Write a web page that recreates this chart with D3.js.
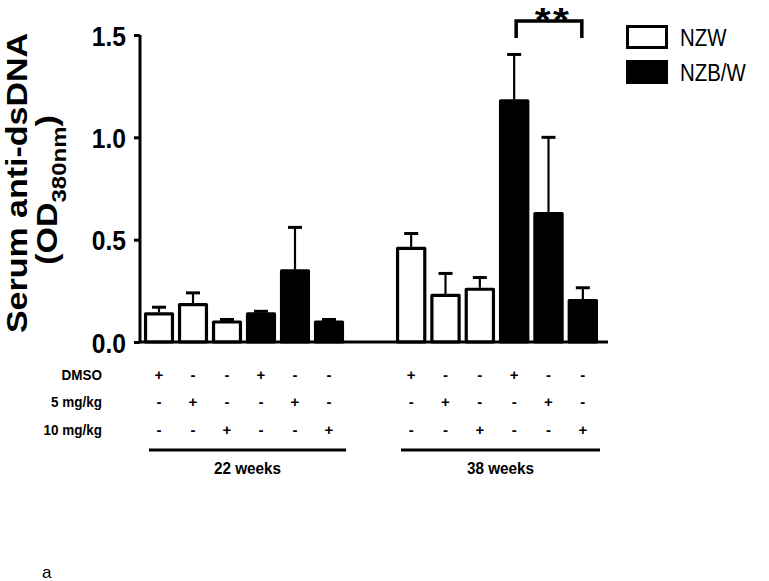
<!DOCTYPE html>
<html>
<head>
<meta charset="utf-8">
<script src="https://cdn.jsdelivr.net/npm/d3@7"></script>
<style>
  html, body { margin: 0; padding: 0; background: #fff; }
  svg { display: block; }
  text { font-family: "Liberation Sans", Arial, sans-serif; fill: #000; }
</style>
</head>
<body>
<svg id="chart" width="769" height="581"></svg>
<script>
// ---- data ----
const weeks = ["22 weeks", "38 weeks"];
const treatments = ["DMSO", "5 mg/kg", "10 mg/kg"];
const strains = ["NZW", "NZB/W"];
// order within a group: NZW DMSO, NZW 5, NZW 10, NZB/W DMSO, NZB/W 5, NZB/W 10
const means22 = [0.145, 0.19, 0.105, 0.145, 0.355, 0.105];
const sem22   = [0.025, 0.05, 0.005, 0.005, 0.205, 0.005];
const means38 = [0.465, 0.235, 0.265, 1.185, 0.635, 0.21];
const sem38   = [0.065, 0.10, 0.05, 0.22, 0.365, 0.055];
const yTicks = [0, 0.5, 1.0, 1.5];
const significance = "**";

// ---- build rows ----
function buildRows(means, sems, week) {
  return means.map((m, i) => ({
    week,
    strain: strains[Math.floor(i / 3)],
    treatment: treatments[i % 3],
    key: strains[Math.floor(i / 3)] + "|" + treatments[i % 3],
    mean: m,
    sem: sems[i]
  }));
}
const groups = [
  { week: weeks[0], rows: buildRows(means22, sem22, weeks[0]), range: [142, 346] },
  { week: weeks[1], rows: buildRows(means38, sem38, weeks[1]), range: [394, 600] }
];

const svg = d3.select("#chart");
const y = d3.scaleLinear().domain([0, 1.5]).range([342, 35]);
const axisX = 140;
const baseY = y(0);

groups.forEach(g => {
  g.x = d3.scaleBand().domain(g.rows.map(r => r.key)).range(g.range)
    .paddingInner(0.12).paddingOuter(0.06);
});

// ---- bars ----
groups.forEach(g => {
  const gg = svg.append("g");
  gg.selectAll("line.err").data(g.rows).join("line")
    .attr("x1", d => g.x(d.key) + g.x.bandwidth() / 2)
    .attr("x2", d => g.x(d.key) + g.x.bandwidth() / 2)
    .attr("y1", d => y(d.mean))
    .attr("y2", d => y(d.mean + d.sem))
    .attr("stroke", "#000").attr("stroke-width", 2.2);
  gg.selectAll("line.cap").data(g.rows).join("line")
    .attr("x1", d => g.x(d.key) + g.x.bandwidth() / 2 - 7)
    .attr("x2", d => g.x(d.key) + g.x.bandwidth() / 2 + 7)
    .attr("y1", d => y(d.mean + d.sem))
    .attr("y2", d => y(d.mean + d.sem))
    .attr("stroke", "#000").attr("stroke-width", 3);
  gg.selectAll("rect").data(g.rows).join("rect")
    .attr("x", d => g.x(d.key) + 1.5)
    .attr("width", g.x.bandwidth() - 3)
    .attr("y", d => y(d.mean) + 1.5)
    .attr("height", d => Math.max(0, baseY - y(d.mean) - 1.5))
    .attr("fill", d => d.strain === strains[0] ? "#fff" : "#000")
    .attr("stroke", "#000").attr("stroke-width", 3.2)
    .attr("stroke-linejoin", "round");
});

// ---- y axis ----
const yAxis = d3.axisLeft(y).tickValues(yTicks).tickFormat(d3.format(".1f"))
  .tickSize(6).tickPadding(8);
const ya = svg.append("g").attr("transform", `translate(${axisX},0)`).call(yAxis);
ya.select(".domain").attr("d", `M0,${y(1.5)}V${baseY}`).attr("stroke", "#000").attr("stroke-width", 3);
ya.selectAll(".tick line").attr("stroke", "#000").attr("stroke-width", 3);
ya.selectAll(".tick text")
  .attr("font-family", "Liberation Sans, Arial, sans-serif")
  .attr("font-size", 28).attr("font-weight", "bold")
  .attr("dy", "0.36em")
  .attr("transform", function() {
    const x = +d3.select(this).attr("x");
    return `translate(${x * (1 - 0.88)},0) scale(0.88,1)`;
  });

// x baseline
svg.append("line").attr("x1", axisX - 1.5).attr("x2", 608)
  .attr("y1", baseY).attr("y2", baseY)
  .attr("stroke", "#000").attr("stroke-width", 3);

// ---- y title ----
const title = svg.append("g").attr("transform", "translate(16.5,183) rotate(-90)");
title.append("text").attr("text-anchor", "middle").attr("dy", "0.35em")
  .attr("font-size", 34).attr("font-weight", "bold")
  .attr("transform", "scale(1,0.86)")
  .text("Serum anti-dsDNA");
const sub = svg.append("g").attr("transform", "translate(47,190) rotate(-90)");
const subT = sub.append("text").attr("text-anchor", "middle").attr("dy", "0.35em")
  .attr("font-size", 34).attr("font-weight", "bold")
  .attr("transform", "scale(1,0.85)");
subT.append("tspan").text("(OD");
subT.append("tspan").attr("font-size", 24).attr("dy", 10).text("380nm");
subT.append("tspan").attr("dy", -10).text(")");

// ---- treatment table ----
const rowY = [375, 402, 430];
treatments.forEach((t, i) => {
  svg.append("text").attr("transform", `translate(102,${rowY[i]}) scale(0.9,1)`).attr("dy", "0.35em")
    .attr("text-anchor", "end").attr("font-size", 15).attr("font-weight", "bold")
    .text(t);
  groups.forEach(g => {
    svg.selectAll(null).data(g.rows).join("text")
      .attr("x", d => g.x(d.key) + g.x.bandwidth() / 2)
      .attr("y", rowY[i]).attr("dy", "0.35em")
      .attr("text-anchor", "middle").attr("font-size", 15).attr("font-weight", "bold")
      .text(d => d.treatment === t ? "+" : "-");
  });
});
groups.forEach(g => {
  svg.append("line").attr("x1", g.range[0] + 7).attr("x2", g.range[1])
    .attr("y1", 450).attr("y2", 450).attr("stroke", "#000").attr("stroke-width", 3);
  svg.append("text").attr("transform", `translate(${(g.range[0] + 7 + g.range[1]) / 2},468) scale(0.9,1)`)
    .attr("dy", "0.35em").attr("text-anchor", "middle")
    .attr("font-size", 17).attr("font-weight", "bold").text(g.week);
});

// ---- significance bracket ----
{
  const g = groups[1];
  const a = g.rows[3], b = g.rows[5];
  const xa = g.x(a.key) + g.x.bandwidth() / 2 + 2;
  const xb = g.x(b.key) + g.x.bandwidth() / 2 - 1;
  svg.append("path").attr("d", `M${xa},38V21H${xb}V38`)
    .attr("fill", "none").attr("stroke", "#000").attr("stroke-width", 3.5)
    .attr("stroke-linejoin", "miter");
  svg.append("text").attr("transform", `translate(${(xa + xb) / 2 + 4},31) scale(1.2,1)`)
    .attr("text-anchor", "middle").attr("font-size", 34).attr("font-weight", "bold")
    .attr("letter-spacing", 2)
    .text(significance);
}

// ---- legend ----
strains.forEach((s, i) => {
  const ly = 25 + i * 35;
  svg.append("rect").attr("x", 627.5).attr("y", ly + 1.5).attr("width", 39).attr("height", 21)
    .attr("fill", i === 0 ? "#fff" : "#000").attr("stroke", "#000").attr("stroke-width", 3);
  svg.append("text").attr("transform", `translate(680,${ly + 12}) scale(0.85,1)`)
    .attr("dy", "0.36em").attr("font-size", 24).text(s);
});

// ---- panel label ----
svg.append("text").attr("x", 42).attr("y", 578)
  .attr("font-family", "Liberation Serif, Times New Roman, serif")
  .attr("font-size", 17).text("a");
</script>
</body>
</html>
